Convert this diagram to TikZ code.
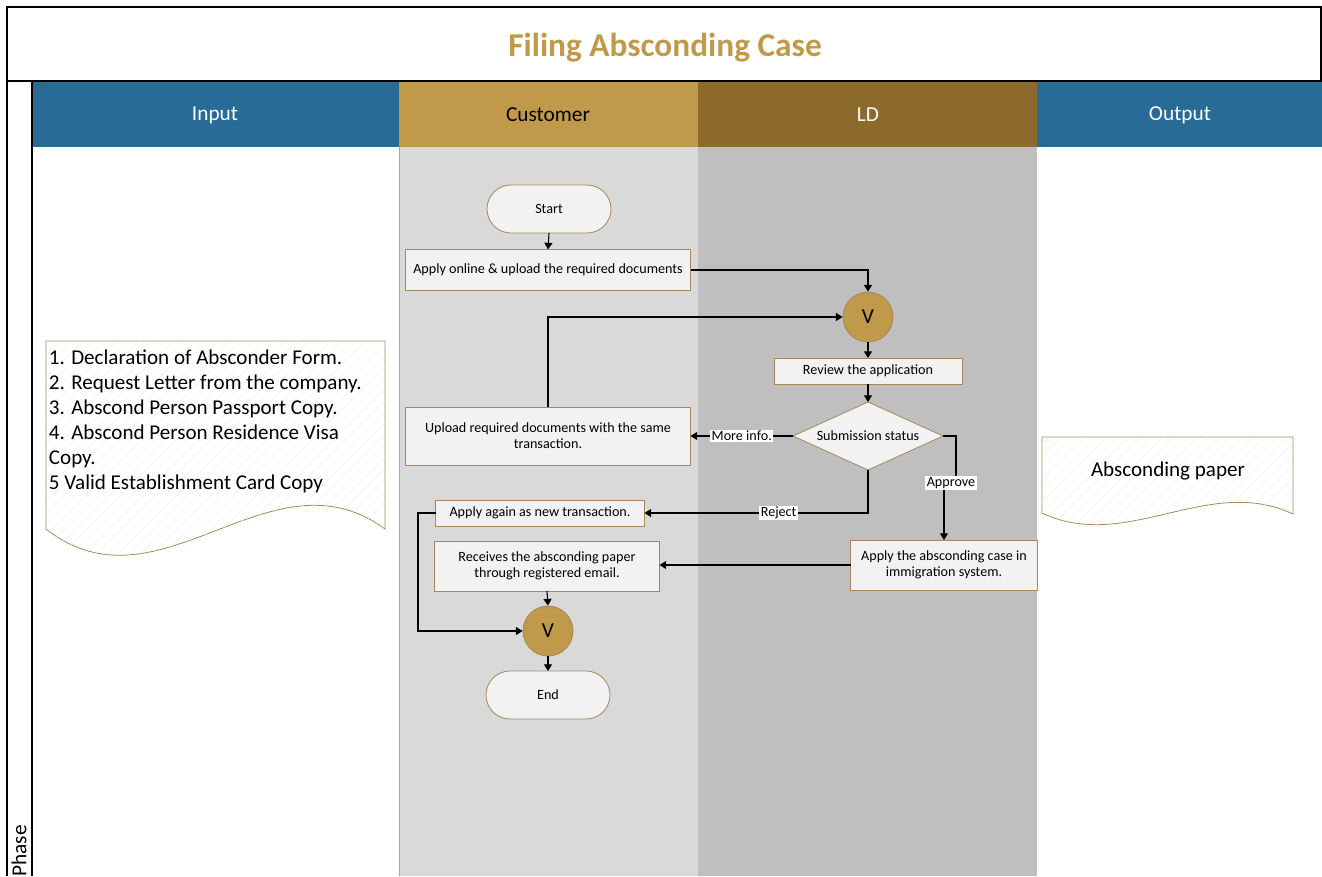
\documentclass[tikz,border=0pt]{standalone}
\usepackage{fontspec}
\setmainfont{Carlito}
\usetikzlibrary{shapes.geometric, arrows.meta, positioning, calc, patterns.meta}

\definecolor{hdrblue}{RGB}{39,107,150}
\definecolor{hdrgold}{RGB}{192,154,74}
\definecolor{hdrbrown}{RGB}{139,106,43}
\definecolor{lanelight}{RGB}{217,217,217}
\definecolor{lanedark}{RGB}{191,191,191}
\definecolor{boxfill}{RGB}{242,242,242}
\definecolor{boxline}{RGB}{166,135,85}

\begin{document}
\begin{tikzpicture}[
    x=0.75pt, y=-0.75pt,
    font=\fontsize{10.6}{12.2}\selectfont,
    process/.style={draw=boxline, fill=boxfill, line width=0.6pt, align=center, inner sep=2pt, outer sep=0pt},
    terminal/.style={process, rounded corners=18pt, minimum width=93pt, minimum height=36pt},
    decision/.style={process, diamond, aspect=2.2, inner sep=0pt, minimum width=112.5pt, minimum height=51pt},
    merge/.style={circle, draw=boxline, fill=hdrgold, line width=0.6pt, minimum size=37.5pt, inner sep=0pt, font=\fontsize{16}{18}\selectfont},
    arrow/.style={-{Triangle[width=6pt,length=5pt]}, line width=0.8pt},
    tag/.style={fill=white, inner sep=1pt},
    header/.style={font=\fontsize{16}{19}\selectfont},
    docpaper/.style={draw=boxline, line width=0.6pt, fill=white, postaction={pattern={Lines[angle=45,distance=6pt,line width=0.4pt]}, pattern color=black!6}}
]
    \useasboundingbox (0,0) rectangle (1322,876);

    % lanes and headers
    \fill[lanelight] (399,147) rectangle (698,876);
    \fill[lanedark] (698,147) rectangle (1037,876);
    \draw[black!35, line width=0.6pt] (399,147) -- (399,876);
    \fill[hdrblue] (32,81) rectangle (399,147);
    \fill[hdrgold] (399,81) rectangle (698,147);
    \fill[hdrbrown] (698,81) rectangle (1037,147);
    \fill[hdrblue] (1037,81) rectangle (1322,147);
    \draw[line width=0.8pt] (7,876) -- (7,7) -- (1321,7) -- (1321,81) -- (7,81);
    \draw[line width=0.8pt] (32,81) -- (32,876);

    \node[font=\fontsize{25}{29}\selectfont\bfseries, text=hdrgold] (title) at (665,48) {Filing Absconding Case};
    \node[header, rotate=90] (phase) at (19,851) {Phase};
    \node[header, text=white] (hdrinput) at (215,115) {Input};
    \node[header] (hdrcustomer) at (548,115) {Customer};
    \node[header, text=white] (hdrld) at (868,115) {LD};
    \node[header, text=white] (hdroutput) at (1180,115) {Output};

    % documents
    \draw[docpaper] (46,341) -- (385,341) -- (385,529) .. controls (270,445) and (160,618) .. (46,529) -- cycle;
    \node[anchor=north west, align=left, inner sep=2pt, font=\fontsize{15.8}{18.75}\selectfont] (inputs) at (46,347)
        {1. Declaration of Absconder Form.\\2. Request Letter from the company.\\3. Abscond Person Passport Copy.\\4. Abscond Person Residence Visa\\Copy.\\5 Valid Establishment Card Copy};
    \draw[docpaper] (1042,437) -- (1293,437) -- (1293,514) .. controls (1208,474) and (1127,553) .. (1042,513) -- cycle;
    \node[font=\fontsize{15.8}{18}\selectfont] (outputs) at (1168,471) {Absconding paper};

    % flow
    \node[terminal] (start) at (549,209) {Start};
    \node[process, minimum width=213.75pt, minimum height=30.75pt] (apply) at (548,270) {Apply online \& upload the required documents};
    \node[merge] (merge1) at (868,317) {V};
    \node[process, minimum width=141pt, minimum height=19.5pt] (review) at (868,371) {Review the application};
    \node[decision] (status) at (868,436) {Submission status};
    \node[process, minimum width=213.75pt, minimum height=43.5pt] (upload) at (548,436) {Upload required documents with the same\\transaction.};
    \node[process, minimum width=156.75pt, minimum height=19.5pt] (again) at (540,513) {Apply again as new transaction.};
    \node[process, minimum width=168.75pt, minimum height=37.5pt] (receive) at (547,566) {Receives the absconding paper\\through registered email.};
    \node[process, minimum width=140.25pt, minimum height=37.5pt] (absc) at (944,565) {Apply the absconding case in\\immigration system.};
    \node[merge] (merge2) at (548,631) {V};
    \node[terminal] (end) at (548,695) {End};

    \coordinate (apjog) at (956,483);
    \coordinate (loop) at (418,513);

    \draw[arrow] (start.south) -- (apply.north);
    \draw[arrow] (apply.east) -| (merge1.north);
    \draw[arrow] (upload.north) |- (merge1.west);
    \draw[arrow] (merge1.south) -- (review.north);
    \draw[arrow] (review.south) -- (status.north);
    \draw[arrow] (status.west) -- node[tag] {More info.} (upload.east);
    \draw[arrow] (status.east) -| (apjog) -| (absc.north);
    \node[tag] (approve) at (951,483) {Approve};
    \draw[arrow] (status.south) |- node[tag, pos=0.7] {Reject} (again.east);
    \draw[arrow] (absc.west) -- (absc.west -| receive.east);
    \draw[arrow] (again.west) -- (loop) |- (merge2.west);
    \draw[arrow] (receive.south) -- (merge2.north);
    \draw[arrow] (merge2.south) -- (end.north);
\end{tikzpicture}
\end{document}
